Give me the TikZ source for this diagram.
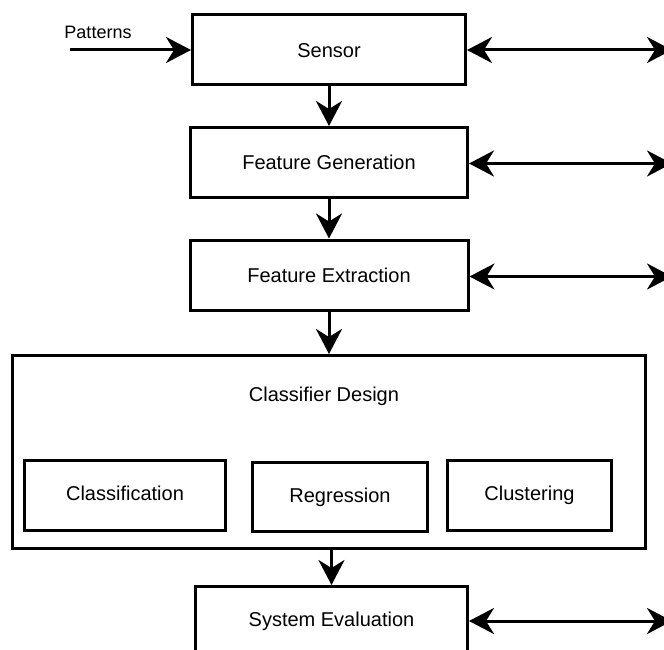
\documentclass[tikz,border=0pt]{standalone}
\usepackage{fontspec}
\setmainfont{Liberation Sans}
\usetikzlibrary{arrows.meta, positioning}

\begin{document}
\begin{tikzpicture}[
    x=1pt, y=-1pt,
    box/.style={
      rectangle, draw=black, line width=3pt,
      minimum width=273pt, minimum height=70pt,
      inner sep=0pt, text centered,
      text height=14.3pt, text depth=0pt,
      font=\fontsize{20}{24}\selectfont
    },
    lowbox/.style={box, text depth=4pt},
    arr/.style={-{Stealth[length=25pt, width=26pt, inset=8pt]}, line width=3pt},
    darr/.style={{Stealth[length=25pt, width=26pt, inset=8pt]}-{Stealth[length=25pt, width=26pt, inset=8pt]}, line width=3pt},
    node distance=39.5pt
  ]
  \useasboundingbox (0,0) rectangle (664,650);
  \clip (0,0) rectangle (664,650);

  \node[box] (sensor) at (329,50) {Sensor};
  \node[box, minimum width=277pt, below=of sensor] (featgen) {Feature Generation};
  \node[box, minimum width=278pt, below=of featgen] (featext) {Feature Extraction};
  \node[box, minimum width=633pt, minimum height=193pt] (design) at (329,452) {};
  \node[inner sep=0pt, text height=14.3pt, text depth=0pt, font=\fontsize{20}{24}\selectfont] (designlbl) at (324,394.5) {Classifier Design};
  \node[lowbox, minimum width=201pt] (classif) at (125,495.5) {Classification};
  \node[lowbox, minimum width=175pt, minimum height=69pt] (regress) at (340,497) {Regression};
  \node[lowbox, minimum width=164pt] (cluster) at (529.5,495.5) {Clustering};
  \node[lowbox, minimum width=272pt, minimum height=69pt] (syseval) at (331.5,621) {System Evaluation};

  % input
  \coordinate (patin) at (70,50);
  \node[inner sep=0pt, text height=13pt, text depth=0pt, font=\fontsize{18}{22}\selectfont] (pat) at (98,32.5) {Patterns};
  \draw[arr] (patin) -- (sensor.west);

  % main chain
  \draw[arr] (sensor) -- (featgen);
  \draw[arr] (featgen) -- (featext);
  \draw[arr] (featext.south) -- (featext.south |- design.north);
  \draw[arr] (design.south -| syseval.north) -- (syseval.north);

  % feedback to the right
  \coordinate (edge) at (672,0);
  \draw[darr] (sensor.east) -- (sensor.east -| edge);
  \draw[darr] ([yshift=-1pt]featgen.east) -- ([yshift=-1pt]featgen.east -| edge);
  \draw[darr] ([yshift=-1.5pt]featext.east) -- ([yshift=-1.5pt]featext.east -| edge);
  \draw[darr] (syseval.east) -- (syseval.east -| edge);
\end{tikzpicture}
\end{document}
